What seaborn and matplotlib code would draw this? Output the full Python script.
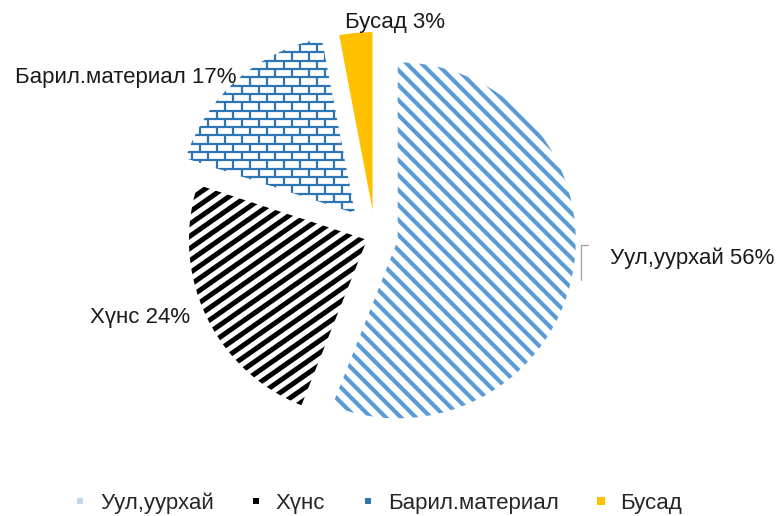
import numpy as np
import matplotlib
matplotlib.use("Agg")
import matplotlib.pyplot as plt
import seaborn as sns
from matplotlib.collections import LineCollection
from matplotlib.lines import Line2D

# data
categories = ["Уул,уурхай", "Хүнс", "Барил.материал", "Бусад"]
shares = [56, 24, 17, 3]
explode = [0.13, 0.05, 0.17, 0.146]

# label placement (axes fraction) and alignment
label_xy = [(0.783, 0.500), (0.244, 0.384), (0.304, 0.849), (0.507, 0.957)]
label_ha = ["left", "right", "right", "center"]

sns.set_style("white")
plt.rcParams["font.family"] = ["Liberation Sans", "DejaVu Sans"]

R_PX = 178.0          # pie radius in pixels
px = 1.0 / R_PX       # one pixel in data units

fig = plt.figure(figsize=(7.79, 5.16), dpi=100)
ax = fig.add_axes([0, 0, 1, 1])

wedges, _ = ax.pie(shares, explode=explode, startangle=90, counterclock=False,
                   colors=["white", "white", "white", "#FFC000"],
                   wedgeprops=dict(linewidth=0))

ax.set_aspect("auto")
cx, cy = 375.0, 236.0
ax.set_xlim(-cx * px, (779 - cx) * px)
ax.set_ylim(-(516 - cy) * px, cy * px)
ax.axis("off")


def stripes(wedge, angle_deg, spacing, lw, color):
    a = np.radians(angle_deg)
    d = np.array([np.cos(a), np.sin(a)])
    n = np.array([-d[1], d[0]])
    segs = []
    for off in np.arange(-3, 3, spacing):
        p = off * n
        segs.append([p - 3 * d, p + 3 * d])
    lc = LineCollection(segs, colors=color, linewidths=lw, zorder=3)
    ax.add_collection(lc)
    lc.set_clip_path(wedge)


def bricks(wedge, h, w, lw, color):
    segs = []
    ys = np.arange(-2, 2, h)
    for k, y in enumerate(ys):
        segs.append([(-3, y), (3, y)])
        shift = (k % 2) * w / 2
        for x in np.arange(-3, 3, w):
            segs.append([(x + shift, y), (x + shift, y + h)])
    lc = LineCollection(segs, colors=color, linewidths=lw, zorder=3)
    ax.add_collection(lc)
    lc.set_clip_path(wedge)


stripes(wedges[0], -45, 10.6 * px, 3.0, "#5B9BD5")
stripes(wedges[1], 35, 10.0 * px, 3.6, "black")
bricks(wedges[2], 8.3 * px, 16.7 * px, 1.6, "#2E75B6")

for name, val, (lx, ly), ha in zip(categories, shares, label_xy, label_ha):
    ax.text(lx, ly, f"{name} {val}%", transform=ax.transAxes, ha=ha, va="center",
            fontsize=16, color="#1a1a1a")

# leader line for the first label
ax.plot([0.7548, 0.7458, 0.7458], [0.5252, 0.5252, 0.4574], transform=ax.transAxes,
        color="#A6A6A6", lw=1)

handles = [
    Line2D([], [], marker="s", ls="", markersize=5, markerfacecolor="#BDD7EE", markeredgewidth=0),
    Line2D([], [], marker="s", ls="", markersize=5, markerfacecolor="black", markeredgewidth=0),
    Line2D([], [], marker="s", ls="", markersize=5, markerfacecolor="#2E75B6", markeredgewidth=0),
    Line2D([], [], marker="s", ls="", markersize=6, markerfacecolor="#FFC000", markeredgewidth=0),
]
fig.legend(handles, categories, loc="center", bbox_to_anchor=(0.485, 0.025), ncol=4,
           frameon=False, fontsize=16, handlelength=0.6, handletextpad=0.6,
           columnspacing=1.6)

plt.savefig("out.png", dpi=100)
plt.close()
